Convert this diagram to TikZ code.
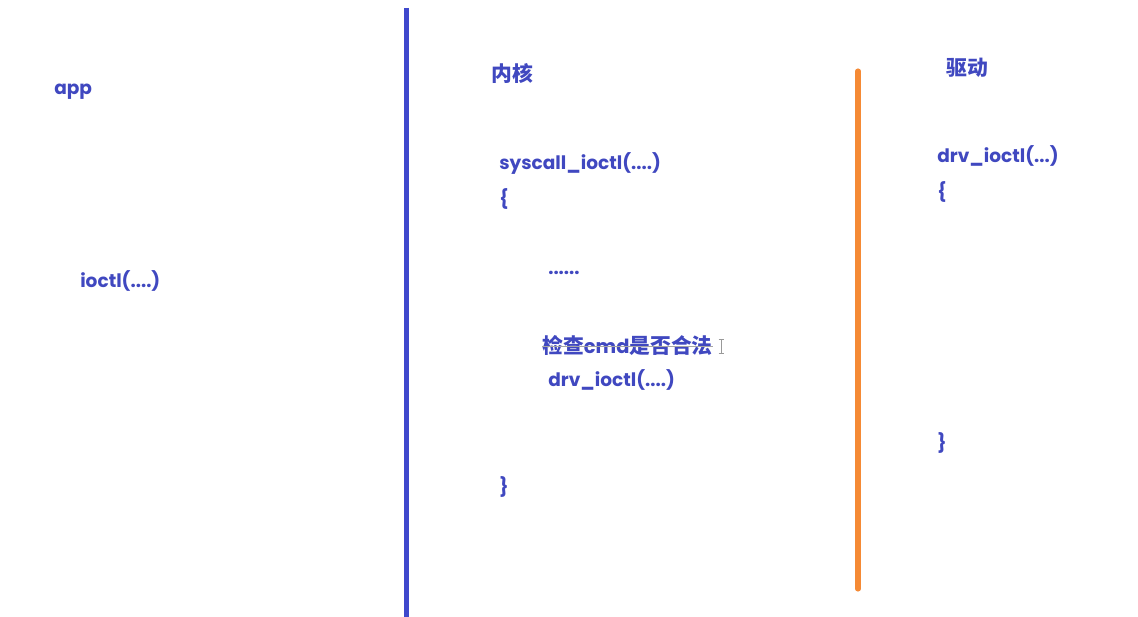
\documentclass[tikz,border=0pt]{standalone}
\usepackage{fontspec}
\setmainfont{Poppins}
\newfontfamily\cjk{Noto Sans CJK SC}
\definecolor{txtblue}{RGB}{64,72,192}
\definecolor{lineblue}{RGB}{63,72,204}
\definecolor{lineorange}{RGB}{245,138,53}
\begin{document}
\begin{tikzpicture}[x=0.75pt,y=-0.75pt,
  lbl/.style={anchor=west,inner sep=0pt,text=txtblue,font=\fontsize{13.9}{16}\selectfont\bfseries},
  cn/.style={anchor=west,inner sep=0pt,text=txtblue,font=\fontsize{15.6}{18}\selectfont\cjk\bfseries}]
\useasboundingbox (0,0) rectangle (1138,617);
\fill[white] (0,0) rectangle (1138,617);
% dividers
\coordinate (b1) at (406.5,8);
\coordinate (b2) at (406.5,617);
\coordinate (o1) at (858,71);
\coordinate (o2) at (858,589);
\draw[lineblue,line width=3.8pt] (b1) -- (b2);
\draw[lineorange,line width=3.8pt,line cap=round] (o1) -- (o2);
% app
\node[lbl] (app) at (54,92) {app};
\node[lbl] (ioctl) at (80,281) {ioctl(....)};
% kernel
\node[cn] (kern) at (491,73) {内核};
\node[lbl] (sys) at (499,163) {syscall\_ioctl(....)};
\node[lbl] (ob1) at (499,199) {\{};
\node[lbl] (dots) at (548,273) {......};
\node[cn] (chk) at (542,345) {检查{\fontspec{Poppins}\bfseries\fontsize{14.6}{17}\selectfont cmd}是否合法};
\node[lbl] (drvc) at (548,380) {drv\_ioctl(....)};
\node[lbl] (cb1) at (499,487) {\}};
% strike-through and cursor
\draw[gray!70,line width=0.6pt] (chk.west) ++(0,1) -- ([yshift=-0.75pt]chk.east);
\draw[gray!80,line width=0.5pt] (721,339) -- (721,353) (718.5,339) -- (723.5,339) (718.5,353) -- (723.5,353);
% driver
\node[cn] (drv) at (946,68) {驱动};
\node[lbl] (drvf) at (937,156) {drv\_ioctl(...)};
\node[lbl] (ob2) at (937,192) {\{};
\node[lbl] (cb2) at (937,443) {\}};
\end{tikzpicture}
\end{document}
